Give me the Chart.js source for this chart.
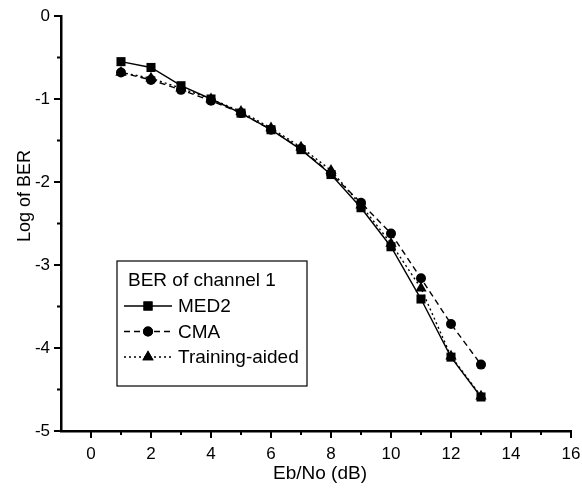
<!DOCTYPE html>
<html>
<head>
<meta charset="utf-8">
<script src="https://cdn.jsdelivr.net/npm/chart.js@4"></script>
<style>
  body { margin: 0; background: #fff; }
  canvas { display: block; }
</style>
</head>
<body>
<canvas id="berChart" width="582" height="491"></canvas>
<script>
const ebno = [1, 2, 3, 4, 5, 6, 7, 8, 9, 10, 11, 12, 13];
const med2 = [-0.55, -0.62, -0.84, -1.0, -1.17, -1.37, -1.61, -1.91, -2.31, -2.78, -3.41, -4.11, -4.59];
const cma = [-0.68, -0.77, -0.89, -1.02, -1.17, -1.37, -1.6, -1.9, -2.25, -2.62, -3.16, -3.71, -4.2];
const trainingAided = [-0.68, -0.75, -0.87, -1.0, -1.15, -1.35, -1.58, -1.86, -2.28, -2.74, -3.28, -4.1, -4.58];
const seriesNames = ['MED2', 'CMA', 'Training-aided'];
const legendTitle = 'BER of channel 1';
const xTitle = 'Eb/No (dB)';
const yTitle = 'Log of BER';

const FONT = '"Liberation Sans", Arial, sans-serif';

const styles = [
  { dash: [], point: 'rect', radius: 6.4 },
  { dash: [6, 4], point: 'circle', radius: 5 },
  { dash: [2, 3], point: 'triangle', radius: 6.5 }
];

function toPoints(ys) {
  return ebno.map((x, i) => ({ x, y: ys[i] }));
}

const datasets = [med2, cma, trainingAided].map((ys, i) => ({
  label: seriesNames[i],
  data: toPoints(ys),
  borderColor: '#000',
  backgroundColor: '#000',
  borderWidth: 1.4,
  borderDash: styles[i].dash,
  pointStyle: styles[i].point,
  pointRadius: styles[i].radius,
  pointBorderWidth: 0,
  tension: 0
}));

// axis ticks (major + minor) and titles, legend box
const decorations = {
  id: 'decorations',
  afterDraw(chart) {
    const ctx = chart.ctx;
    const xs = chart.scales.x;
    const ys = chart.scales.y;
    const area = chart.chartArea;
    ctx.save();
    ctx.strokeStyle = '#000';
    ctx.lineWidth = 2;

    // x ticks
    for (let v = 0; v <= 16; v++) {
      const px = xs.getPixelForValue(v);
      const len = v % 2 === 0 ? 7 : 4;
      ctx.beginPath();
      ctx.moveTo(px, area.bottom);
      ctx.lineTo(px, area.bottom + len);
      ctx.stroke();
    }
    // y ticks
    for (let v = -5; v <= 0; v += 0.5) {
      const py = ys.getPixelForValue(v);
      const len = Number.isInteger(v) ? 7 : 4;
      ctx.beginPath();
      ctx.moveTo(area.left, py);
      ctx.lineTo(area.left - len, py);
      ctx.stroke();
    }

    // axis titles
    ctx.fillStyle = '#000';
    ctx.textAlign = 'center';
    ctx.textBaseline = 'middle';
    ctx.font = '19px ' + FONT;
    ctx.fillText(xTitle, 320, 474);
    ctx.save();
    ctx.translate(25, 196);
    ctx.rotate(-Math.PI / 2);
    ctx.font = '18px ' + FONT;
    ctx.fillText(yTitle, 0, 0);
    ctx.restore();

    // legend
    const box = { x: 117, y: 261, w: 190, h: 125 };
    ctx.lineWidth = 1.2;
    ctx.strokeRect(box.x, box.y, box.w, box.h);
    ctx.textAlign = 'left';
    ctx.font = '19px ' + FONT;
    ctx.fillText(legendTitle, box.x + 11, box.y + 20);
    chart.data.datasets.forEach((ds, i) => {
      const cy = box.y + 45 + i * 25.5;
      const x0 = box.x + 7;
      const x1 = box.x + 55;
      ctx.save();
      ctx.lineWidth = 1.4;
      ctx.setLineDash(ds.borderDash);
      ctx.beginPath();
      ctx.moveTo(x0, cy);
      ctx.lineTo(x1, cy);
      ctx.stroke();
      ctx.restore();
      Chart.helpers.drawPoint(ctx, {
        pointStyle: ds.pointStyle,
        radius: ds.pointRadius,
        borderWidth: 0,
        rotation: 0
      }, (x0 + x1) / 2, cy);
      ctx.fill();
      ctx.fillText(ds.label, x1 + 6, cy + 1);
    });
    ctx.restore();
  }
};

new Chart(document.getElementById('berChart'), {
  type: 'line',
  data: { datasets },
  plugins: [decorations],
  options: {
    responsive: false,
    animation: false,
    devicePixelRatio: 1,
    layout: { padding: { top: 16, right: 11, left: 0, bottom: 0 } },
    plugins: {
      legend: { display: false },
      tooltip: { enabled: false }
    },
    scales: {
      x: {
        type: 'linear',
        min: -1,
        max: 16,
        afterFit: s => { s.height = 60; s.paddingLeft = 0; s.paddingRight = 0; },
        grid: { display: false, drawTicks: false },
        border: { display: true, color: '#000', width: 2.5 },
        ticks: {
          stepSize: 1,
          autoSkip: false,
          maxRotation: 0,
          padding: 13,
          color: '#000',
          font: { family: FONT, size: 17 },
          callback: v => (v >= 0 && v % 2 === 0 ? v : '')
        }
      },
      y: {
        type: 'linear',
        min: -5,
        max: 0,
        afterFit: s => { s.width = 61; s.paddingTop = 0; s.paddingBottom = 0; },
        grid: { display: false, drawTicks: false },
        border: { display: true, color: '#000', width: 2.5 },
        ticks: {
          stepSize: 0.5,
          padding: 11,
          color: '#000',
          font: { family: FONT, size: 17 },
          callback: v => (Number.isInteger(v) ? v : '')
        }
      }
    }
  }
});
</script>
</body>
</html>
